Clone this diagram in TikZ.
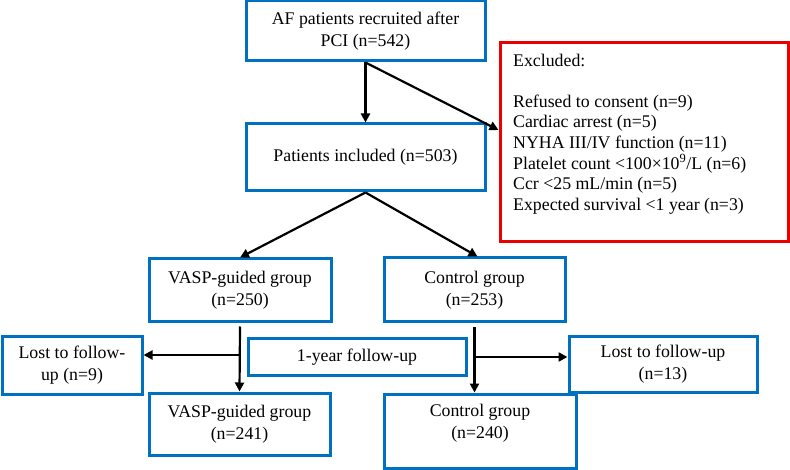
\documentclass[tikz,border=0pt]{standalone}
\usepackage{fontspec}
\setmainfont{Liberation Serif}
\usetikzlibrary{arrows.meta,calc}
\definecolor{bblue}{RGB}{0,112,192}
\definecolor{rred}{RGB}{235,0,0}
\begin{document}
\begin{tikzpicture}[x=1pt,y=-1pt,
  box/.style={draw=bblue,line width=3pt,inner sep=0pt,align=center,
    font=\fontsize{17.8}{22}\selectfont},
  arr/.style={line width=2.2pt,-{Triangle[length=9pt,width=9pt]}},
  txt/.style={inner sep=0pt,align=center,font=\fontsize{17.8}{22}\selectfont}]
\useasboundingbox (0,0) rectangle (790,470);
\node[box,minimum width=239pt,minimum height=60pt] (top) at (365.5,31) {AF patients recruited after\\PCI (n=542)};
\node[box,minimum width=239pt,minimum height=67pt] (pat) at (365.5,157.5) {Patients included (n=503)};
\node[draw=rred,line width=3pt,minimum width=288pt,minimum height=199pt,inner sep=0pt] (red) at (644,142.5) {};
\node[inner sep=0pt,anchor=north west,align=left,font=\fontsize{17.8}{20.6}\selectfont] (redt) at (513,53.5)
 {Excluded:\\[20.6pt]Refused to consent (n=9)\\Cardiac arrest (n=5)\\NYHA III/IV function (n=11)\\Platelet count <100×10\textsuperscript{9}/L (n=6)\\Ccr <25 mL/min (n=5)\\Expected survival <1 year (n=3)};
\node[box,minimum width=182pt,minimum height=63pt] (vasp) at (240,290.5) {VASP-guided group\\(n=250)};
\node[box,minimum width=181pt,minimum height=64pt] (ctrl) at (474.5,290) {Control group\\(n=253)};
\node[box,minimum width=140pt,minimum height=57pt] (lostL) at (72,365.5) {Lost to follow-\\up (n=9)};
\node[box,minimum width=218pt,minimum height=36pt] (year) at (357,357) {1-year follow-up};
\node[box,minimum width=181pt,minimum height=62pt] (vasp2) at (239.5,424) {VASP-guided group\\(n=241)};
\node[box,minimum width=188pt,minimum height=55pt] (lostR) at (663,364.5) {Lost to follow-up\\(n=13)};
\node[box,minimum width=192pt,minimum height=74pt] (ctrl2) at (480,431) {};
\node[txt] (ctrl2t) at (480,423) {Control group\\(n=240)};
\coordinate (exy) at (0,130);
\draw[arr] (top.south) -- (pat.north);
\draw[arr] (top.south) -- (red.west |- exy);
\draw[arr] (pat.south) -- (vasp.north);
\draw[arr] (pat.south) -- ([xshift=3pt]ctrl.north);
\draw[arr] ([yshift=-3pt]vasp.south) -- (vasp2.north);
\coordinate (bL) at (240,355);
\draw[arr] (bL) -- (lostL.east |- bL);
\draw[arr] ([yshift=-4pt]ctrl.south) -- (ctrl.south |- ctrl2.north);
\coordinate (bR) at (474.5,357);
\draw[arr] (bR) -- (lostR.west |- bR);
\end{tikzpicture}
\end{document}
